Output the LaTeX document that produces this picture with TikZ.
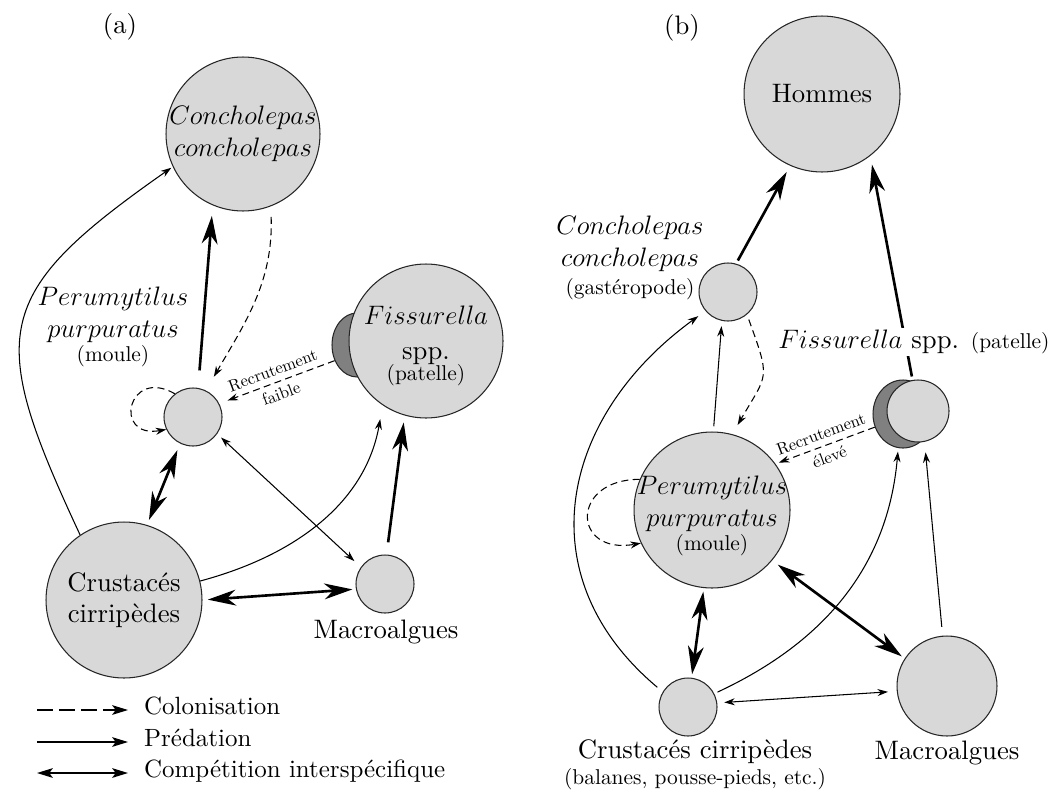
\documentclass[tikz,border=0pt]{standalone}
\usepackage{fix-cm}
\usepackage{fontspec}
\setmainfont{lmroman10-regular.otf}[ItalicFont=lmroman10-italic.otf,BoldFont=lmroman10-bold.otf]
\usetikzlibrary{arrows.meta,shapes.geometric}

\newcommand{\taillegrand}{\fontsize{15.2}{18}\selectfont}
\newcommand{\taillemoy}{\fontsize{12.2}{14}\selectfont}
\newcommand{\taillelegende}{\fontsize{14.2}{17}\selectfont}
\newcommand{\taillepetit}{\fontsize{9.5}{10}\selectfont}

\definecolor{gris}{RGB}{216,216,216}
\definecolor{grisfonce}{RGB}{128,128,128}

\begin{document}
\begin{tikzpicture}[x=0.02cm,y=0.02cm,
    every node/.style={font=\taillegrand},
    espece/.style={circle,draw=black!85,fill=gris,line width=0.6pt,inner sep=0pt},
    coquille/.style={ellipse,draw=black!85,fill=grisfonce,line width=0.6pt,inner sep=0pt},
    predfine/.style={line width=0.6pt,-{Stealth[length=6pt,width=4pt]}},
    predfort/.style={line width=1.5pt,-{Stealth[length=16pt,width=9pt,inset=5pt]}},
    compfine/.style={line width=0.6pt,{Stealth[length=6pt,width=4pt]}-{Stealth[length=6pt,width=4pt]}},
    compfort/.style={line width=1.5pt,{Stealth[length=16pt,width=9pt,inset=5pt]}-{Stealth[length=16pt,width=9pt,inset=5pt]}},
    colon/.style={line width=0.6pt,dash pattern=on 4pt off 2.5pt,-{Stealth[length=6pt,width=4pt]}},
    recrut/.style={font=\taillepetit,sloped,align=center,inner sep=0pt},
    legtrait/.style={line width=0.9pt},
    legpointe/.style={-{Stealth[length=9pt,width=5.5pt,inset=2pt]}},
    legtexte/.style={anchor=west,font=\taillelegende,text height=1.6ex,text depth=0.3ex}]
  \useasboundingbox (0,0) rectangle (1050,-791);

  % (a)
  \node (tA) at (120,-27) {(a)};
  \node[espece,minimum size=3.08cm] (conA) at (243,-134) {};
  \node[espece,minimum size=1.16cm] (pmA) at (193,-417) {};
  \node[coquille,minimum width=1cm,minimum height=1.28cm] (fiAd) at (357,-345) {};
  \node[espece,minimum size=3.08cm] (fiA) at (426,-341) {};
  \node[espece,minimum size=3.12cm] (crA) at (124,-600) {};
  \node[espece,minimum size=1.16cm] (maA) at (385,-584) {};

  \node[align=center] (conAt) at (conA) {$Concholepas$\\$concholepas$};
  \node[align=center] (pmAt) at (113,-327) {$Perumytilus$\\$purpuratus$\\[-4pt]{\taillemoy (moule)}};
  \node[align=center] (fiAt) at (426,-346) {$Fissurella$\\[2pt]spp.\\[-6pt]{\taillemoy (patelle)}};
  \node[align=center] (crAt) at (crA) {Crustacés\\cirripèdes};
  \node (maAt) at (386,-632) {Macroalgues};

  \path (crA.124) edge[predfine,out=115,in=-145,looseness=1.5,shorten >=1pt] (conA.205);
  \path (pmA.80) edge[predfort,shorten <=10pt,shorten >=6pt] (conA.247);
  \path (conA.291) edge[colon,out=-88,in=60,shorten <=6pt,shorten >=9pt] (pmA.64);
  \path (pmA.128) edge[colon,out=150,in=190,looseness=3.8] (pmA.205);
  \path (fiAd.215) edge[colon,shorten >=5pt]
    node[recrut] {Recrutement\\[4pt]faible} (pmA.27);
  \path (pmA.244) edge[compfort,shorten <=4pt,shorten >=3pt] (crA.73);
  \path (pmA.325) edge[compfine,shorten <=3pt,shorten >=5pt] (maA.145);
  \path (crA.14) edge[predfine,out=15,in=-100,shorten >=8pt] (fiA.236);
  \path (maA.87) edge[predfort,shorten <=7pt,shorten >=4pt] (fiA.254);
  \path (crA.0) edge[compfort,shorten <=3pt,shorten >=2pt] (maA.190);

  % (b)
  \node (tB) at (682,-28) {(b)};
  \node[espece,minimum size=3.12cm] (hoB) at (822,-94) {};
  \node[espece,minimum size=1.16cm] (coB) at (728,-292) {};
  \node[coquille,minimum width=1.2cm,minimum height=1.36cm] (fiBd) at (903,-414) {};
  \node[espece,minimum size=1.24cm] (fiB) at (918,-411) {};
  \node[espece,minimum size=3.12cm] (pmB) at (712,-510) {};
  \node[espece,minimum size=1.16cm] (crB) at (688,-707) {};
  \node[espece,minimum size=2cm] (maB) at (947,-686) {};

  \node (hoBt) at (hoB) {Hommes};
  \node[align=center] (coBt) at (630,-258) {$Concholepas$\\$concholepas$\\[-2pt]{\taillemoy (gastéropode)}};
  \node[align=center] (pmBt) at (712,-516) {$Perumytilus$\\$purpuratus$\\[-4pt]{\taillemoy (moule)}};
  \node[align=center] (crBt) at (695,-765) {Crustacés cirripèdes\\[-3pt]{\taillemoy (balanes, pousse-pieds, etc.)}};
  \node (maBt) at (947,-753) {Macroalgues};

  \path (coB.74) edge[predfort,shorten <=2pt,shorten >=4pt] (hoB.246);
  \path (fiB.100) edge[predfort,shorten <=2pt,shorten >=5pt] (hoB.308);
  \path (crB.149) edge[predfine,out=140,in=-144,looseness=1.2,shorten <=4pt,shorten >=5pt] (coB.220);
  \path (pmB.89) edge[predfine,shorten <=3pt,shorten >=3pt] (coB.258);
  \path (coB.310) edge[colon,out=-70,in=60,looseness=1.5,shorten <=3pt,shorten >=6pt] (pmB.75);
  \path (pmB.157) edge[colon,out=180,in=190,looseness=2.8] (pmB.205);
  \path (fiBd.205) edge[colon,shorten >=2pt]
    node[recrut] {Recrutement\\[4pt]élevé} (pmB.36);
  \path (crB.83) edge[compfort,shorten <=2pt,shorten >=2pt] (pmB.264);
  \path (pmB.320) edge[compfort,shorten <=4pt,shorten >=2pt] (maB.147);
  \path (crB.27) edge[predfine,out=25,in=-95,shorten <=2pt,shorten >=2pt] (fiBd.262);
  \path (maB.95) edge[predfine,shorten <=5pt,shorten >=6pt] (fiB.282);
  \path (crB.8) edge[compfine,shorten <=4pt,shorten >=5pt] (maB.186);

  % texte par-dessus la fleche vers les hommes
  \node[fill=white,inner sep=1pt] (fiBt) at (914,-342) {$Fissurella$ spp. {\taillemoy (patelle)}};

  % legende
  \coordinate (lgc1) at (37,-710);
  \coordinate (lgc2) at (128,-710);
  \coordinate (lgp1) at (37,-742);
  \coordinate (lgp2) at (128,-742);
  \coordinate (lgk1) at (37,-773);
  \coordinate (lgk2) at (128,-773);
  \draw[legtrait,legpointe,dash pattern=on 9pt off 3.5pt] (lgc1) -- (lgc2);
  \draw[legtrait,legpointe] (lgp1) -- (lgp2);
  \draw[legtrait,{Stealth[length=9pt,width=5.5pt,inset=2pt]}-{Stealth[length=9pt,width=5.5pt,inset=2pt]}] (lgk1) -- (lgk2);
  \node[legtexte] (lgct) at (138,-710) {Colonisation};
  \node[legtexte] (lgpt) at (138,-742) {Prédation};
  \node[legtexte] (lgkt) at (138,-773) {Compétition interspécifique};
\end{tikzpicture}
\end{document}
